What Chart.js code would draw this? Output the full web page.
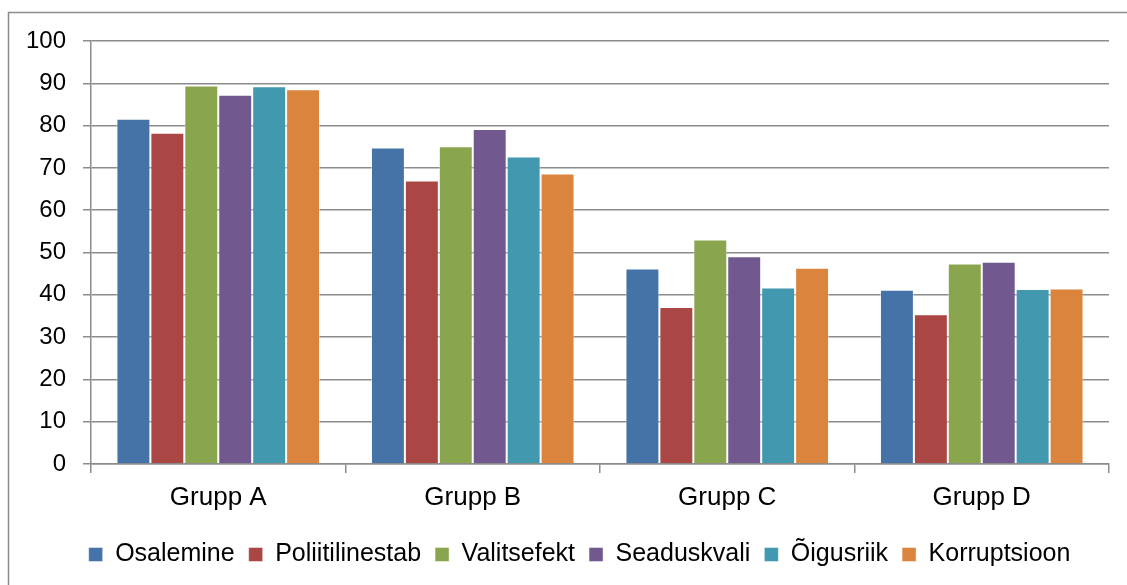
<!DOCTYPE html>
<html>
<head>
<meta charset="utf-8">
<script src="https://cdn.jsdelivr.net/npm/chart.js@4/dist/chart.umd.min.js"></script>
<style>
html,body{margin:0;padding:0;background:#fff;}
#wrap{position:relative;width:1127px;height:585px;}
</style>
</head>
<body>
<div id="wrap"><canvas id="c" width="1127" height="585"></canvas></div>
<script>
const categories = ["Grupp A", "Grupp B", "Grupp C", "Grupp D"];
const seriesNames = ["Osalemine", "Poliitilinestab", "Valitsefekt", "Seaduskvali", "Õigusriik", "Korruptsioon"];
const osalemine = [81.6, 74.8, 46.2, 41.2];
const poliitilinestab = [78.3, 67.0, 37.1, 35.4];
const valitsefekt = [89.5, 75.1, 53.1, 47.4];
const seaduskvali = [87.3, 79.2, 49.1, 47.8];
const oigusriik = [89.3, 72.7, 41.7, 41.4];
const korruptsioon = [88.6, 68.7, 46.4, 41.5];
const yTicks = [0, 10, 20, 30, 40, 50, 60, 70, 80, 90, 100];
const colors = ["#4572A7", "#AA4643", "#89A54E", "#71588F", "#4198AF", "#DB843D"];

const values = [osalemine, poliitilinestab, valitsefekt, seaduskvali, oigusriik, korruptsioon];
const FONT = "'Liberation Sans', Arial, sans-serif";

const frame = {
  id: 'frame',
  beforeDraw(chart) {
    const ctx = chart.ctx;
    ctx.save();
    ctx.fillStyle = '#fff';
    ctx.fillRect(0, 0, chart.width, chart.height);
    ctx.strokeStyle = '#8c8c8c';
    ctx.lineWidth = 1.5;
    ctx.beginPath();
    ctx.moveTo(8.5, 600);
    ctx.lineTo(8.5, 12.5);
    ctx.lineTo(1140, 12.5);
    ctx.stroke();
    ctx.restore();
  }
};

const legendShift = {
  id: 'legendShift',
  afterLayout(chart) {
    if (chart.legend) {
      chart.legend.left += 21;
      chart.legend.right += 21;
    }
  }
};

new Chart(document.getElementById('c'), {
  type: 'bar',
  data: {
    labels: categories,
    datasets: seriesNames.map((n, i) => ({
      label: n,
      data: values[i],
      backgroundColor: colors[i],
      borderColor: 'rgba(255,255,255,0.45)',
      borderWidth: 1,
      categoryPercentage: 0.8,
      barPercentage: 1.0
    }))
  },
  options: {
    responsive: false,
    animation: false,
    devicePixelRatio: 1,
    layout: { padding: { left: 8, right: 18, top: 41, bottom: 8 } },
    plugins: {
      tooltip: { enabled: false },
      legend: {
        position: 'bottom',
        labels: {
          font: { family: FONT, size: 25 },
          color: '#000',
          boxWidth: 14,
          boxHeight: 14,
          padding: 14,
          useBorderRadius: false
        }
      }
    },
    scales: {
      x: {
        grid: { offset: true, drawOnChartArea: false, drawTicks: true, tickLength: 9, color: '#8c8c8c', lineWidth: 1.5 },
        border: { display: true, color: '#8c8c8c', width: 1.5 },
        ticks: { font: { family: FONT, size: 26 }, color: '#000', padding: 9 },
        afterFit(s) { s.height = 64; }
      },
      y: {
        min: 0, max: 100,
        afterBuildTicks(s) { s.ticks = yTicks.map(v => ({ value: v })); },
        grid: { color: '#8c8c8c', lineWidth: 1.5, drawTicks: true, tickLength: 8 },
        border: { display: true, color: '#8c8c8c', width: 1.5 },
        ticks: { font: { family: FONT, size: 24 }, color: '#000', padding: 17 },
        afterFit(s) { s.width = 83; }
      }
    }
  },
  plugins: [frame, legendShift]
});
</script>
</body>
</html>
